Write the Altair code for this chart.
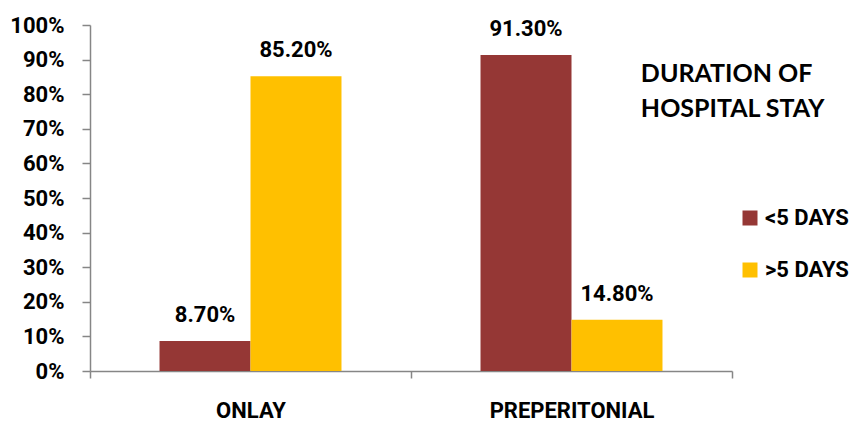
import altair as alt
import pandas as pd

groups = ["ONLAY", "ONLAY", "PREPERITONIAL", "PREPERITONIAL"]
series = ["<5 DAYS", ">5 DAYS", "<5 DAYS", ">5 DAYS"]
values = [0.087, 0.852, 0.913, 0.148]
categories = ["ONLAY", "PREPERITONIAL"]
series_order = ["<5 DAYS", ">5 DAYS"]
colors = ["#953735", "#FFC000"]

df = pd.DataFrame({"group": groups, "series": series, "value": values})

FONT = "Roboto"
AX = "#868686"

x = alt.X("group:N", sort=categories, title=None,
          scale=alt.Scale(paddingInner=0, paddingOuter=0),
          axis=alt.Axis(labelAngle=0, labelFont=FONT, labelFontSize=22,
                        labelFontWeight="bold", labelColor="#000000",
                        labelBaseline="middle",
                        labelPadding=32, tickBand="extent", tickSize=7,
                        tickColor=AX, domainColor=AX, domainWidth=1.5,
                        tickWidth=1.5))
xo = alt.XOffset("series:N", sort=series_order,
                 scale=alt.Scale(paddingInner=0, paddingOuter=0.764))
y = alt.Y("value:Q", title=None,
          scale=alt.Scale(domain=[0, 1], nice=False),
          axis=alt.Axis(values=[i / 10 for i in range(11)], format=".0%",
                        labelFont=FONT, labelFontSize=22, labelFontWeight="bold",
                        labelColor="#000000", labelPadding=18, tickSize=8,
                        tickColor=AX, domainColor=AX, domainWidth=1.5,
                        tickWidth=1.5, grid=False))

bars = alt.Chart(df).mark_bar().encode(
    x=x, xOffset=xo, y=y,
    color=alt.Color("series:N", sort=series_order,
                    scale=alt.Scale(domain=series_order, range=colors),
                    legend=alt.Legend(title=None, orient="none", legendX=649,
                                      legendY=182, symbolType="square",
                                      symbolSize=225, symbolStrokeWidth=0,
                                      labelFont=FONT, labelFontSize=22,
                                      labelFontWeight="bold",
                                      labelColor="#000000", rowPadding=30,
                                      labelOffset=4)),
)

labels = alt.Chart(df).mark_text(
    baseline="middle", dy=-26, font=FONT, fontSize=22, fontWeight="bold",
    color="#000000"
).encode(x=x, xOffset=xo, y=y, text=alt.Text("value:Q", format=".2%"))

chart = alt.layer(bars, labels).properties(
    width=642, height=346,
    padding={"left": 90, "top": 25, "right": 122, "bottom": 50},
    autosize=alt.AutoSizeParams(type="none"),
    title=alt.TitleParams(["DURATION OF", "HOSPITAL STAY"], anchor="start",
                          align="left", dx=631, dy=112, font="Lato",
                          fontSize=25, fontWeight="bold", color="#000000",
                          lineHeight=35, baseline="top"),
).configure_view(stroke=None).configure_axis(labelFlush=False)

chart.save("out.html", embed_options={"renderer": "svg", "actions": False})
